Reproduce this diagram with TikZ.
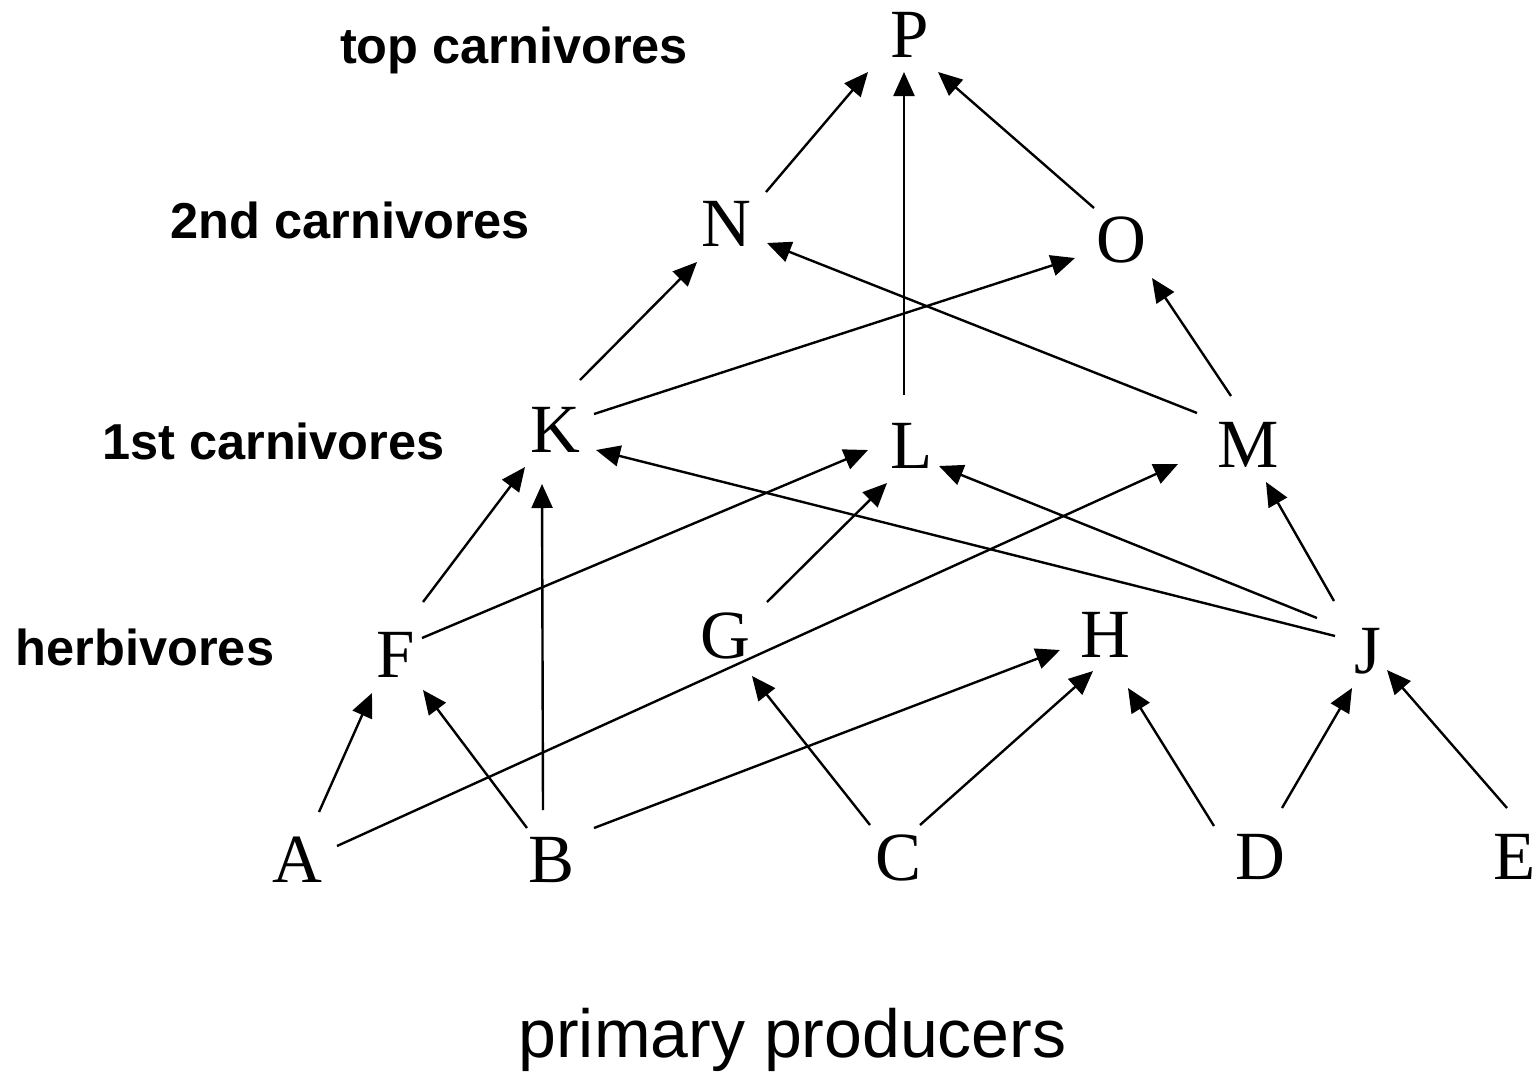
\documentclass[tikz,border=0pt]{standalone}
\usepackage{fontspec}
\usetikzlibrary{arrows.meta,calc}
\newfontfamily\lettfont{Liberation Serif}
\newfontfamily\labfont{Liberation Sans}
\newcommand\fwedge[4]{\draw[feeds] ($(#1.center)+(#2)$) -- ($(#3.center)+(#4)$);}
\begin{document}
\begin{tikzpicture}[x=1pt,y=-1pt,
  sp/.style={font={\lettfont\fontsize{69}{69}\selectfont}, inner sep=0pt, text height=45pt, text depth=0pt, anchor=center},
  lvl/.style={font={\labfont\bfseries\fontsize{50.5}{50.5}\selectfont}, inner sep=0pt, anchor=base},
  prodlabel/.style={font={\labfont\fontsize{68}{68}\selectfont}, inner sep=0pt, anchor=base},
  feeds/.style={line width=2.4pt, -{Triangle[length=24pt,width=21pt]}}]
\useasboundingbox (0,0) rectangle (1536,1072);

% trophic level labels
\node[lvl] (ltop) at (514,63) {top carnivores};
\node[lvl] (lsec) at (350.5,238) {2nd carnivores};
\node[lvl] (lfir) at (273.5,459) {1st carnivores};
\node[lvl] (lherb) at (145,665) {herbivores};
\node[prodlabel] (lprod) at (792.5,1057) {primary producers};

% species
\node[sp] (P) at (910,35) {P};
\node[sp] (N) at (726,224) {N};
\node[sp] (O) at (1121,240) {O};
\node[sp] (K) at (555,430) {K};
\node[sp] (L) at (912,446) {L};
\node[sp] (M) at (1248,445) {M};
\node[sp] (F) at (396,655) {F};
\node[sp] (G) at (725,636) {G};
\node[sp] (H) at (1105,635) {H};
\node[sp] (J) at (1368,651) {J};
\node[sp] (A) at (297,860) {A};
\node[sp] (B) at (552,860) {B};
\node[sp] (C) at (898,858) {C};
\node[sp] (D) at (1260,857) {D};
\node[sp] (E) at (1515,857) {E};

% feeding links
\fwedge{N}{40,-32}{P}{-42,37}
\fwedge{L}{-8,-51}{P}{-6,37}
\fwedge{O}{-27,-32}{P}{28,37}
\fwedge{K}{25,-50}{N}{-29,38}
\fwedge{K}{39,-16}{O}{-46,18}
\fwedge{M}{-51,-32}{N}{41,19}
\fwedge{M}{-17,-49}{O}{31,38}
\fwedge{F}{27,-53}{K}{-30,37}
\fwedge{B}{-9,-50}{K}{-13,54}
\fwedge{F}{26,-17}{L}{-44,4}
\fwedge{G}{42,-34}{L}{-25,37}
\fwedge{J}{-33,-15}{K}{41,20}
\fwedge{J}{-51,-33}{L}{27,20}
\fwedge{J}{-34,-50}{M}{18,37}
\fwedge{A}{40,-14}{M}{-70,19}
\fwedge{A}{22,-48}{F}{-24,38}
\fwedge{B}{-25,-32}{F}{27,35}
\fwedge{B}{42,-32}{H}{-45,15}
\fwedge{C}{-28,-33}{G}{27,40}
\fwedge{C}{22,-33}{H}{-12,36}
\fwedge{D}{-46,-31}{H}{23,53}
\fwedge{D}{22,-49}{J}{-16,37}
\fwedge{E}{-8,-49}{J}{19,19}
\end{tikzpicture}
\end{document}
